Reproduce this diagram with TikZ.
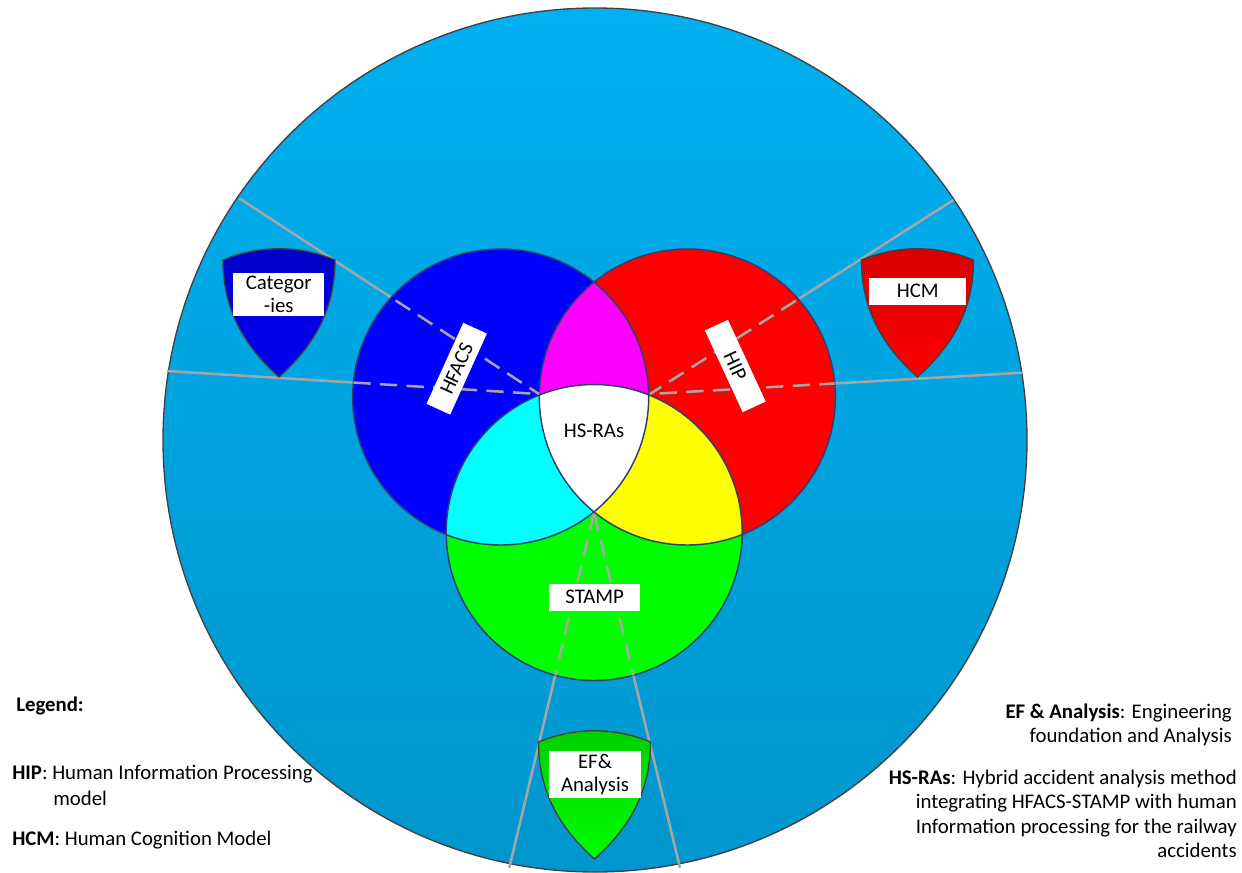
\documentclass[tikz,border=0pt]{standalone}
\usepackage{fontspec}
\setmainfont{Carlito}
\definecolor{skytop}{RGB}{0,176,240}
\definecolor{skybot}{RGB}{0,150,205}
\definecolor{gline}{RGB}{166,166,166}
\definecolor{cedge}{RGB}{47,64,110}
\definecolor{medge}{RGB}{64,64,64}
\definecolor{vblue}{RGB}{0,0,255}
\definecolor{vred}{RGB}{255,0,0}
\definecolor{vgreen}{RGB}{0,255,0}
\definecolor{vmag}{RGB}{255,0,255}
\definecolor{vcyan}{RGB}{0,255,255}
\definecolor{vyel}{RGB}{255,255,0}
\definecolor{shbA}{RGB}{0,0,200}
\definecolor{shbB}{RGB}{0,0,245}
\definecolor{shrA}{RGB}{215,0,0}
\definecolor{shrB}{RGB}{255,0,0}
\definecolor{shgA}{RGB}{0,205,0}
\definecolor{shgB}{RGB}{0,255,0}
\begin{document}
\begin{tikzpicture}[x=0.75pt,y=-0.75pt,
  every node/.style={font=\fontsize{15.6}{18}\selectfont, inner sep=0pt},
  lab/.style={fill=white, align=center},
  solidline/.style={draw=gline, line width=1.9pt},
  dashline/.style={draw=gline, line width=1.9pt, dash pattern=on 13pt off 7pt},
  vedge/.style={draw=cedge, line width=1.1pt},
  pics/shield/.style 2 args={code={
    \shadedraw[top color=#1, bottom color=#2, draw=medge, line width=1pt]
      (-56,0) .. controls (-20,-15) and (20,-15) .. (56,0)
      .. controls (56,55) and (30,90) .. (0,117)
      .. controls (-30,90) and (-56,55) .. (-56,0) -- cycle;}}
]
\useasboundingbox (0,0) rectangle (1242,872);
% big circle
\coordinate (cbig) at (595,440);
\shade[top color=skytop, bottom color=skybot] (cbig) circle (432);
\draw[medge, line width=1pt] (cbig) circle (432);
% centres and corners
\coordinate (cb) at (500.7,397);
\coordinate (cr) at (687.3,397);
\coordinate (cg) at (594.2,532.5);
\coordinate (tl) at (539,394);
\coordinate (tr) at (650,394);
\coordinate (bt) at (594,512.7);
\coordinate (ul) at (239.3,198.3);
\coordinate (lf) at (167,371);
\coordinate (ur) at (953.3,200);
\coordinate (rt) at (1023,372.7);
\coordinate (bl) at (509.3,867.7);
\coordinate (br) at (680,867.7);
% solid grey lines
\draw[solidline] (tl) -- (ul) (tl) -- (lf) (tr) -- (ur) (tr) -- (rt) (bt) -- (bl) (bt) -- (br);
% venn fills
\fill[vblue] (cb) circle (148);
\fill[vred] (cr) circle (148);
\fill[vgreen] (cg) circle (148);
\begin{scope}
  \clip (cb) circle (148);
  \fill[vmag] (cr) circle (148);
  \fill[vcyan] (cg) circle (148);
\end{scope}
\begin{scope}
  \clip (cr) circle (148);
  \fill[vyel] (cg) circle (148);
\end{scope}
\begin{scope}
  \clip (cb) circle (148);
  \clip (cr) circle (148);
  \fill[white] (cg) circle (148);
\end{scope}
\draw[vedge] (cb) circle (148) (cr) circle (148) (cg) circle (148);
% dashed parts
\begin{scope}
  \clip (cb) circle (148);
  \draw[dashline] (ul) -- (tl) (lf) -- (tl);
\end{scope}
\begin{scope}
  \clip (cr) circle (148);
  \draw[dashline] (ur) -- (tr) (rt) -- (tr);
\end{scope}
\begin{scope}
  \clip (cg) circle (148);
  \draw[dashline] (bl) -- (bt) (br) -- (bt);
\end{scope}
% labels in venn
\node[lab, rotate=65.6, minimum width=66.7pt, minimum height=19.5pt] (hfacs) at (456.7,368.7) {HFACS};
\node[lab, rotate=-65.2, minimum width=67.5pt, minimum height=19pt] (hip) at (735.3,366) {HIP};
\node (hsras) at (594,431) {HS-RAs};
\node[lab, minimum width=68pt, minimum height=20pt] (stamp) at (594.7,597.3) {STAMP};
% shields
\pic at (279,260) {shield={shbA}{shbB}};
\pic at (917.5,260) {shield={shrA}{shrB}};
\pic at (594.5,742) {shield={shgA}{shgB}};
\node[lab, minimum width=68pt, minimum height=32.5pt, font=\fontsize{15.6}{17}\selectfont] (cat) at (278.7,294.3) {Categor\\-ies};
\node[lab, minimum width=72.5pt, minimum height=20.5pt] (hcm) at (917.7,291.3) {HCM};
\node[lab, minimum width=69pt, minimum height=35pt, font=\fontsize{15.6}{17}\selectfont] (ef) at (595,774.3) {EF\&\\Analysis};
% legend
\node[anchor=west] (leg) at (16,706) {\textbf{Legend:}};
\node[anchor=west] (leghip) at (12,774) {\textbf{HIP}: Human Information Processing};
\node[anchor=west] (leghip2) at (53,798) {model};
\node[anchor=west] (leghcm) at (12,840) {\textbf{HCM}: Human Cognition Model};
\node[anchor=east, align=right] (legef) at (1232,725) {\textbf{EF \& Analysis}: Engineering\\foundation and Analysis};
\node[anchor=east, align=right, font=\fontsize{15.6}{18.3}\selectfont] (leghs) at (1237,814) {\textbf{HS-RAs}: Hybrid accident analysis method\\integrating HFACS-STAMP with human\\Information processing for the railway\\accidents};
\end{tikzpicture}
\end{document}
